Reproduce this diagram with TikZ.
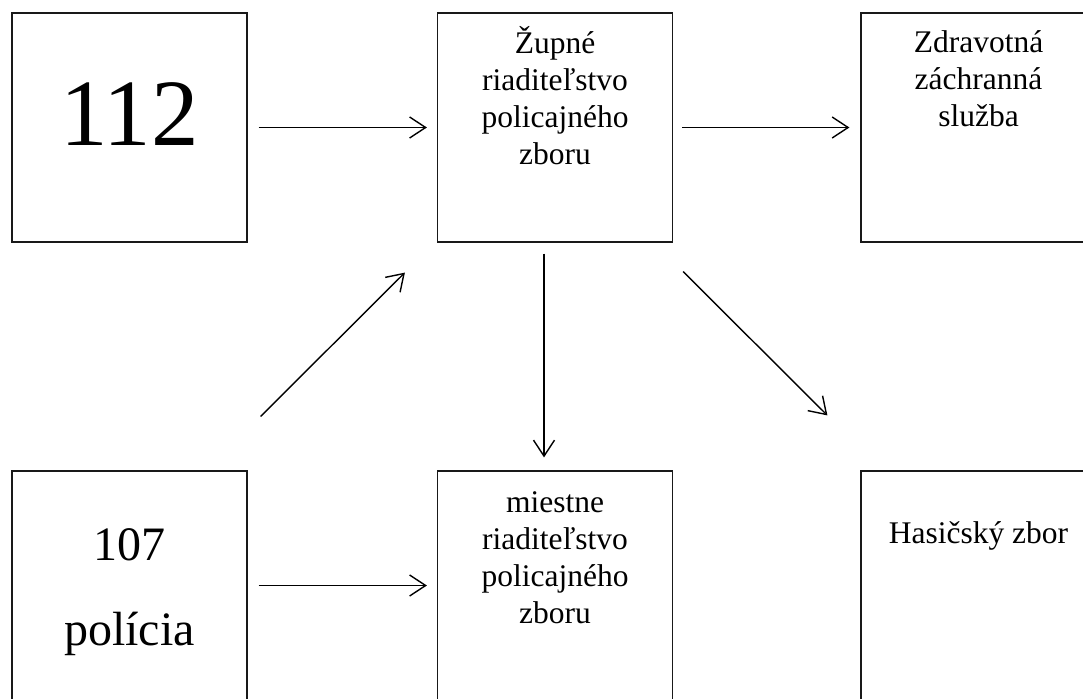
\documentclass[tikz,border=0pt]{standalone}
\usepackage{fontspec}
\setmainfont{Liberation Serif}
\usetikzlibrary{arrows.meta}
\begin{document}
\begin{tikzpicture}[x=1pt,y=-1pt,
  box/.style={draw=black!90,line width=1.2pt,rectangle,minimum width=235pt,minimum height=229pt,inner sep=0pt},
  lbl/.style={inner sep=0pt,anchor=base},
  conn/.style={line width=1.4pt,-{Straight Barb[length=16pt,width=21pt,line width=1.4pt]}}]
\clip (0,0) rectangle (1083,698);
\fill[white] (0,0) rectangle (1083,698);
% boxes
\node[box] (b112) at (129.5,127.5) {};
\node[box] (bzup) at (555,127.5) {};
\node[box] (bzdr) at (978.5,127.5) {};
\node[box] (b107) at (129.5,585.5) {};
\node[box] (bmie) at (555,585.5) {};
\node[box] (bhas) at (978.5,585.5) {};
% texts
\node[lbl] (t112) at (129.5,145) {\fontsize{95}{100}\selectfont 112};
\node[lbl] (tzup) at (555,54) {\parbox[t]{230pt}{\centering\fontsize{31.5}{37}\selectfont\lineskiplimit=-30pt Župné\\riaditeľstvo\\policajného\\zboru}};
\node[lbl] (tzdr) at (978.5,53) {\parbox[t]{230pt}{\centering\fontsize{31.5}{37}\selectfont\lineskiplimit=-30pt Zdravotná\\záchranná\\služba}};
\node[lbl] (t107) at (129.5,560) {\parbox[t]{230pt}{\centering\fontsize{48}{85}\selectfont\lineskiplimit=-30pt 107\\polícia}};
\node[lbl] (tmie) at (555,512) {\parbox[t]{230pt}{\centering\fontsize{31.5}{37}\selectfont\lineskiplimit=-30pt miestne\\riaditeľstvo\\policajného\\zboru}};
\node[lbl] (thas) at (978.5,543) {\fontsize{31.5}{37}\selectfont Hasičský zbor};
% connectors
\draw[conn] ([shift={(11,0)}]b112.east) -- ([shift={(-10,0)}]bzup.west);
\draw[conn] ([shift={(9,0)}]bzup.east) -- ([shift={(-11,0)}]bzdr.west);
\draw[conn] ([shift={(11,0)}]b107.east) -- ([shift={(-10,0)}]bmie.west);
\draw[conn] ([shift={(-11,11)}]bzup.south) -- ([shift={(-11,-13)}]bmie.north);
\draw[conn] ([shift={(13,-54)}]b107.north east) -- ([shift={(-32,30)}]bzup.south west);
\draw[conn] ([shift={(10,29)}]bzup.south east) -- ([shift={(-33,-55)}]bhas.north west);
\end{tikzpicture}
\end{document}
